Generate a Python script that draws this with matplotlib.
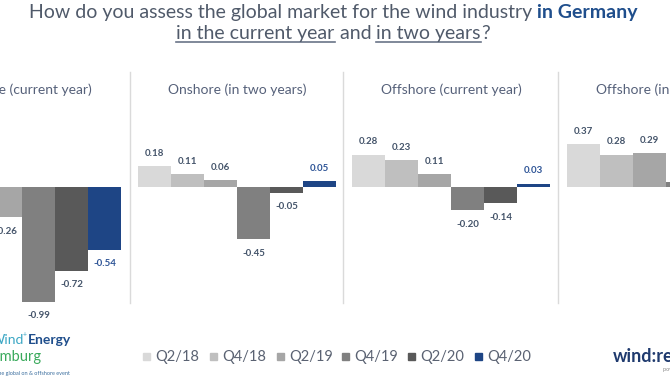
import matplotlib
matplotlib.use("Agg")
import matplotlib.pyplot as plt
from matplotlib.lines import Line2D
from matplotlib.patches import Rectangle

plt.rcParams['font.family'] = ['Lato', 'DejaVu Sans']

quarters = ['Q2/18', 'Q4/18', 'Q2/19', 'Q4/19', 'Q2/20', 'Q4/20']
bar_colors = ['#D9D9D9', '#BFBFBF', '#A6A6A6', '#808080', '#595959', '#1E4585']
panel_titles = ['Onshore (current year)', 'Onshore (in two years)',
                'Offshore (current year)', 'Offshore (in two years)']
# first two bars of panel 1 and last bars of panel 4 are cut off in the slide
onshore_now = [0.10, -0.08, -0.26, -0.99, -0.72, -0.54]
onshore_two = [0.18, 0.11, 0.06, -0.45, -0.05, 0.05]
offshore_now = [0.28, 0.23, 0.11, -0.20, -0.14, 0.03]
offshore_two = [0.37, 0.28, 0.29, 0.04, 0.10, 0.15]
panels = [onshore_now, onshore_two, offshore_now, offshore_two]

W, H = 670, 380
fig = plt.figure(figsize=(W / 100, H / 100), dpi=100)
fig.patch.set_facecolor('white')


def fx(px):
    return px / W


def fy(py):
    return 1 - py / H


grey_txt = '#505A6A'
label_col = '#44546A'
blue_txt = '#1F4E8C'

# panels
starts = [-77, 138, 352, 567]
bw = 33
for left, vals, title in zip(starts, panels, panel_titles):
    ax = fig.add_axes([fx(left), fy(320), 6 * bw / W, 260 / H])
    ax.bar(range(6), vals, width=1.0, color=bar_colors)
    ax.set_xlim(-0.5, 5.5)
    ax.set_ylim(-(320 - 187) / 116, (187 - 60) / 116)
    ax.axis('off')
    for i, v in enumerate(vals):
        c = '#2F5597' if i == 5 else label_col
        ax.annotate(f"{v:.2f}", (i, v), xytext=(0, 13 if v > 0 else -14),
                    textcoords='offset pixels', ha='center', va='center',
                    fontsize=7, fontweight='bold', color=c)
    fig.text(fx(left + 3 * bw), fy(90), title, ha='center', va='center',
             fontsize=10, color='#56617A')

# divider lines
for x in [130, 343, 558]:
    fig.add_artist(Line2D([fx(x), fx(x)], [fy(72), fy(303)], color='#DADADA', lw=1))

# title with mixed styles
r = fig.canvas.get_renderer()


def text_width(s, **kw):
    t1 = fig.text(0, 0, '|' + s + '|', **kw)
    t2 = fig.text(0, 0, '||', **kw)
    w = t1.get_window_extent(r).width - t2.get_window_extent(r).width
    t1.remove()
    t2.remove()
    return w


def title_line(pieces, base_y, xc=333):
    widths = [text_width(s, **kw) for s, kw, u in pieces]
    x = xc - sum(widths) / 2
    for (s, kw, u), w in zip(pieces, widths):
        fig.text(fx(x), fy(base_y), s, va='baseline', ha='left', **kw)
        if u:
            fig.add_artist(Line2D([fx(x), fx(x + w)], [fy(base_y + 2.5)] * 2,
                                  color='#6A7488', lw=1.2))
        x += w


norm = dict(fontsize=14, color=grey_txt)
bold = dict(fontsize=14, color=blue_txt, fontweight='bold')
title_line([("How do you assess the global market for the wind industry ", norm, False),
            ("in Germany", bold, False)], 18)
title_line([("in the current year", norm, True),
            (" and ", norm, False),
            ("in two years", norm, True),
            ("?", norm, False)], 39)

# legend
leg_x = [143, 210, 277, 342, 408, 475]
for x, q, c in zip(leg_x, quarters, bar_colors):
    fig.add_artist(Rectangle((fx(x), fy(360)), 7 / W, 7 / H, color=c,
                             transform=fig.transFigure))
    fig.text(fx(x + 12), fy(357), q, ha='left', va='center',
             fontsize=10.5, color='#5A6272')

# logos (cut off at the slide edges)
fig.text(fx(24), fy(340), 'Wind', ha='right', va='center', fontsize=10,
         color='#3BA7C4')
fig.text(fx(25), fy(335), '+', ha='center', va='center', fontsize=5, color='#3BA7C4')
fig.text(fx(28), fy(340), 'Energy', ha='left', va='center', fontsize=10,
         color='#1F4E8C', fontweight='bold')
fig.text(fx(42), fy(357), 'Hamburg', ha='right', va='center', fontsize=10.5,
         color='#3AAA5C')
fig.text(fx(70), fy(374), 'The global on & offshore event', ha='right', va='center',
         fontsize=4, color='#3B6E9E')

fig.text(fx(613), fy(357), 'wind:research', ha='left', va='center', fontsize=13,
         color='#1F3A6E', fontweight='bold')
fig.text(fx(663), fy(370), 'powered by', ha='left', va='center', fontsize=4,
         color='#888888')

fig.savefig('out.png', dpi=100)
